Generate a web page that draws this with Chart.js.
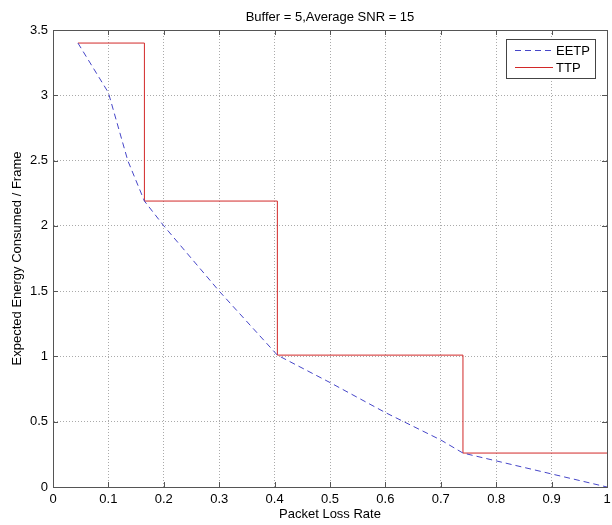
<!DOCTYPE html>
<html>
<head>
<meta charset="utf-8">
<script src="https://cdn.jsdelivr.net/npm/chart.js@4.4.0/dist/chart.umd.min.js"></script>
<style>
  html, body { margin: 0; padding: 0; background: #fff; }
  #wrap { width: 612px; height: 525px; }
</style>
</head>
<body>
<div id="wrap"><canvas id="chart" width="612" height="525"></canvas></div>
<script>
// data
const eetpX = [0.045, 0.1, 0.135, 0.165, 0.2, 0.3, 0.405, 0.5, 0.6, 0.7, 0.74, 0.8, 0.9, 1.0];
const eetpY = [3.40, 3.02, 2.50, 2.19, 2.0, 1.5, 1.01, 0.80, 0.57, 0.36, 0.26, 0.20, 0.10, 0.0];
const ttpX = [0.045, 0.165, 0.405, 0.74, 1.0];
const ttpY = [3.40, 2.19, 1.01, 0.26, 0.26];
const xTicks = [0, 0.1, 0.2, 0.3, 0.4, 0.5, 0.6, 0.7, 0.8, 0.9, 1];
const yTicks = [0, 0.5, 1, 1.5, 2, 2.5, 3, 3.5];
const titleText = 'Buffer = 5,Average SNR = 15';

const fontFamily = "'Liberation Sans', Arial, sans-serif";

function toPoints(xs, ys) {
    return xs.map((x, i) => ({ x: x, y: ys[i] }));
}

// title over the plot, box round the axes, inward ticks, legend inside the plot
const matlabAxes = {
    id: 'matlabAxes',
    afterDraw(chart) {
        const ctx = chart.ctx;
        const a = chart.chartArea;
        const xs = chart.scales.x;
        const ys = chart.scales.y;
        ctx.save();

        ctx.fillStyle = '#000';
        ctx.font = '13px ' + fontFamily;
        ctx.textAlign = 'center';
        ctx.textBaseline = 'middle';
        ctx.fillText(titleText, (a.left + a.right) / 2, 17);
        ctx.textAlign = 'left';

        ctx.lineWidth = 1;
        ctx.strokeStyle = '#555';
        ctx.strokeRect(a.left + 0.5, a.top + 0.5, a.right - a.left, a.bottom - a.top);

        // ticks pointing inwards
        ctx.beginPath();
        xTicks.forEach(v => {
            const px = Math.round(xs.getPixelForValue(v)) + 0.5;
            ctx.moveTo(px, a.bottom); ctx.lineTo(px, a.bottom - 5);
            ctx.moveTo(px, a.top); ctx.lineTo(px, a.top + 5);
        });
        yTicks.forEach(v => {
            const py = Math.round(ys.getPixelForValue(v)) + 0.5;
            ctx.moveTo(a.left, py); ctx.lineTo(a.left + 5, py);
            ctx.moveTo(a.right, py); ctx.lineTo(a.right - 5, py);
        });
        ctx.stroke();

        // legend
        const w = 89, h = 39;
        const lx = a.right - 12 - w, ly = a.top + 9;
        ctx.fillStyle = '#fff';
        ctx.fillRect(lx, ly, w, h);
        ctx.strokeStyle = '#444';
        ctx.strokeRect(lx + 0.5, ly + 0.5, w, h);
        ctx.font = '13px ' + fontFamily;
        chart.data.datasets.forEach((ds, i) => {
            const cy = ly + 11 + i * 17;
            ctx.beginPath();
            ctx.strokeStyle = ds.borderColor;
            ctx.setLineDash(ds.borderDash || []);
            ctx.moveTo(lx + 9, cy + 0.5);
            ctx.lineTo(lx + 47, cy + 0.5);
            ctx.stroke();
            ctx.setLineDash([]);
            ctx.fillStyle = '#000';
            ctx.fillText(ds.label, lx + 50, cy + 1);
        });
        ctx.restore();
    }
};

const ctx = document.getElementById('chart').getContext('2d');
new Chart(ctx, {
    type: 'scatter',
    data: {
        datasets: [{
            label: 'EETP',
            data: toPoints(eetpX, eetpY),
            showLine: true,
            borderColor: 'rgb(70, 70, 200)',
            borderDash: [6, 4],
            borderWidth: 1,
            pointRadius: 0,
            fill: false
        }, {
            label: 'TTP',
            data: toPoints(ttpX, ttpY),
            showLine: true,
            stepped: 'before',
            borderColor: 'rgb(210, 40, 40)',
            borderWidth: 1,
            pointRadius: 0,
            fill: false
        }]
    },
    options: {
        responsive: false,
        animation: false,
        layout: { padding: { left: 0, right: 0, top: 30, bottom: 0 } },
        plugins: {
            legend: { display: false },
            tooltip: { enabled: false },
            title: { display: false }
        },
        scales: {
            x: {
                type: 'linear',
                min: 0,
                max: 1,
                afterBuildTicks: scale => { scale.ticks = xTicks.map(v => ({ value: v })); },
                afterFit: scale => { scale.height = 38; scale.paddingRight = 5; },
                ticks: {
                    color: '#000',
                    padding: 5,
                    maxRotation: 0,
                    font: { family: fontFamily, size: 13 },
                    callback: v => String(v)
                },
                grid: {
                    color: '#aaa',
                    drawTicks: false
                },
                border: { display: true, color: '#555', dash: [1, 2] },
                title: {
                    display: true,
                    text: 'Packet Loss Rate',
                    color: '#000',
                    font: { family: fontFamily, size: 13 },
                    padding: { top: 0, bottom: 3 }
                }
            },
            y: {
                type: 'linear',
                min: 0,
                max: 3.5,
                afterBuildTicks: scale => { scale.ticks = yTicks.map(v => ({ value: v })); },
                afterFit: scale => { scale.width = 53; },
                ticks: {
                    color: '#000',
                    padding: 5,
                    font: { family: fontFamily, size: 13 },
                    callback: v => String(v)
                },
                grid: {
                    color: '#aaa',
                    drawTicks: false
                },
                border: { display: true, color: '#555', dash: [1, 2] },
                title: {
                    display: true,
                    text: 'Expected Energy Consumed / Frame',
                    color: '#000',
                    font: { family: fontFamily, size: 13 },
                    padding: { top: 10, bottom: 0 }
                }
            }
        }
    },
    plugins: [matlabAxes]
});
</script>
</body>
</html>
